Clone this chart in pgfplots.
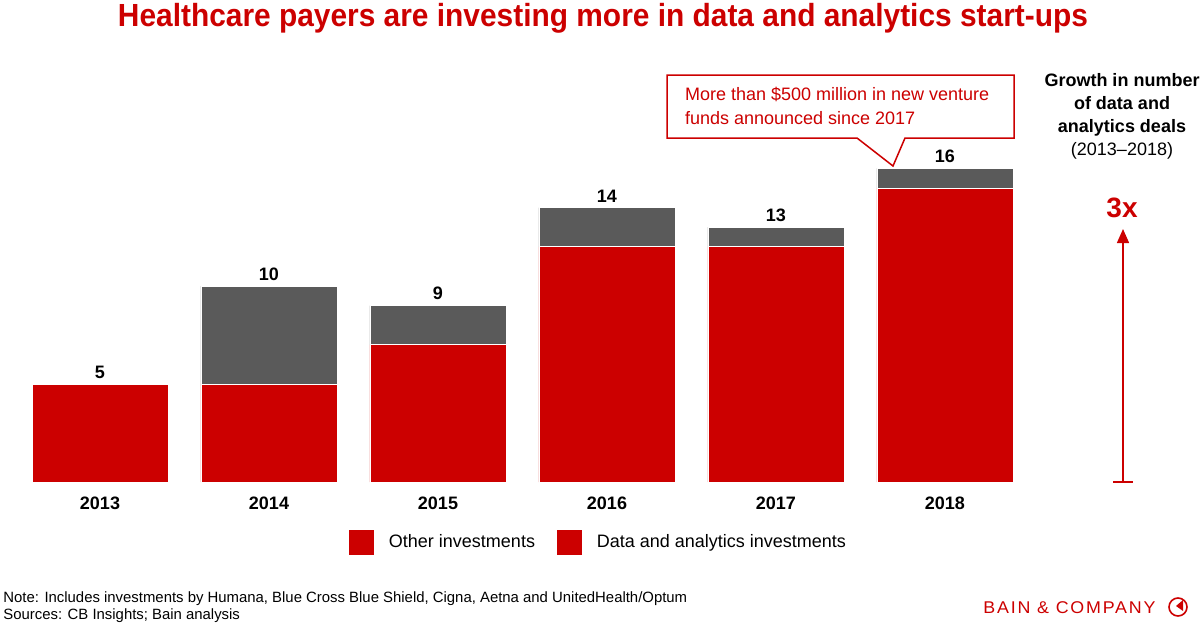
\documentclass[border=0pt]{standalone}
\usepackage{fontspec}
\setmainfont{Liberation Sans}
\newfontfamily\logofont[LetterSpace=10]{Liberation Sans}
\usepackage{pgfplots}
\usepackage{pgfplotstable}
\pgfplotsset{compat=1.18}
\usetikzlibrary{arrows.meta}
\definecolor{bainred}{HTML}{CC0000}
\definecolor{baingray}{HTML}{5A5A5A}

\pgfplotstableread{
x red gray total
0 5 0 5
1 5 5 10
2 7 2 9
3 12 2 14
4 12 1 13
5 15 1 16
}\deals

\pgfplotsset{frame/.style={
  at={(50pt,-241pt)}, anchor=origin,
  scale only axis, width=507pt, height=166.6pt,
  xmin=-0.5, xmax=5.5, ymin=0, ymax=17, clip=false}}

\begin{document}
\begin{tikzpicture}
\path[use as bounding box] (0pt,0pt) rectangle (600pt,-313.5pt);
\begin{axis}[
  frame,
  ybar stacked, bar width=68pt,
  axis line style={draw=none},
  major tick length=0pt,
  ytick=\empty,
  xtick={0,1,2,3,4,5},
  xticklabels={2013,2014,2015,2016,2017,2018},
  xticklabel style={font=\fontsize{9}{11}\selectfont\bfseries, yshift=-4pt},
  legend style={at={(0.576,-0.18)}, anchor=center, draw=none, fill=none,
    font=\fontsize{9}{11}\selectfont, legend columns=2,
    /tikz/every odd column/.append style={column sep=5.5pt},
    /tikz/every even column/.append style={column sep=9pt}},
]
\addplot[fill=bainred, draw=white, line width=0.4pt, forget plot] table[x=x,y=red]{\deals};
\addplot[fill=baingray, draw=white, line width=0.4pt, forget plot] table[x=x, y=gray]{\deals};
\addlegendimage{legend image code/.code={\fill[bainred] (0pt,-6pt) rectangle (12pt,6pt);}}
\addlegendentry{Other investments}
\addlegendimage{legend image code/.code={\fill[bainred] (0pt,-6pt) rectangle (12pt,6pt);}}
\addlegendentry{Data and analytics investments}
\end{axis}
\begin{axis}[frame, hide axis]
\addplot[draw=none, mark=none, nodes near coords, point meta=explicit symbolic,
  nodes near coords style={font=\fontsize{9}{11}\selectfont\bfseries, anchor=south, yshift=-0.8pt, text=black}]
  table[x=x, y=total, meta=total]{\deals};
\end{axis}

\begin{scope}[x=0.5pt,y=-0.5pt]
% title
\node at (603,18) {\resizebox{485pt}{\height}{\fontsize{16}{18}\selectfont\bfseries\color{bainred}Healthcare payers are investing more in data and analytics start-ups}};
% callout
\draw[bainred, line width=0.75pt, fill=white] (667,75) -- (1014,75) -- (1014,138) -- (905,138) -- (893,166) -- (857,138) -- (667,138) -- cycle;
\node[anchor=west, align=left, text=bainred, font=\fontsize{9}{12}\selectfont] at (678,106) {More than \$500 million in new venture\\funds announced since 2017};
% right annotation
\node[align=center, font=\fontsize{9}{11.5}\selectfont] at (1122,116) {\textbf{Growth in number}\\\textbf{of data and}\\\textbf{analytics deals}\\(2013–2018)};
\node[text=bainred, font=\fontsize{14}{16}\selectfont\bfseries] at (1122,208) {3x};
\draw[bainred, line width=0.75pt, -{Triangle[length=7pt,width=6pt]}] (1123,482) -- (1123,229);
\draw[bainred, line width=0.75pt] (1113,482) -- (1133,482);
% footnotes
\node[anchor=west, font=\fontsize{7.45}{9}\selectfont, inner sep=0pt] at (3,599) {Note: Includes investments by Humana, Blue Cross Blue Shield, Cigna, Aetna and UnitedHealth/Optum};
\node[anchor=west, font=\fontsize{7.45}{9}\selectfont, inner sep=0pt] at (3,616) {Sources: CB Insights; Bain analysis};
% logo
\node[anchor=west, inner sep=0pt, text=bainred] at (983,608) {\resizebox{86pt}{\height}{\logofont\fontsize{8.5}{10}\selectfont BAIN \& COMPANY}};
\draw[bainred, line width=0.8pt] (1178,607) circle (9);
\fill[bainred] (1176,606) -- (1183,600) -- (1183,611) -- cycle;
\end{scope}
\end{tikzpicture}
\end{document}
